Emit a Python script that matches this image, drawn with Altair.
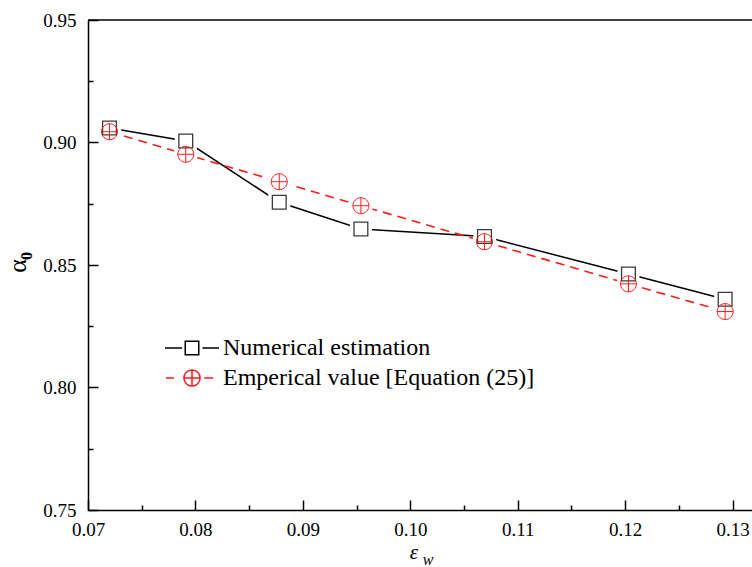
import altair as alt
import pandas as pd

# ---- data ----
eps_w = [0.0720, 0.0791, 0.0878, 0.0954, 0.1069, 0.1203, 0.1293]
alpha_numerical = [0.9059, 0.9006, 0.8756, 0.8647, 0.8616, 0.8463, 0.8360]
alpha_empirical = [0.9044, 0.8952, 0.8840, 0.8742, 0.8595, 0.8423, 0.8310]
series_names = ["Numerical estimation", "Emperical value [Equation (25)]"]
x_labels = [0.07, 0.08, 0.09, 0.10, 0.11, 0.12, 0.13]
y_labels = [0.75, 0.80, 0.85, 0.90, 0.95]
x_all_ticks = [0.07, 0.075, 0.08, 0.085, 0.09, 0.095, 0.10, 0.105, 0.11, 0.115, 0.12, 0.125, 0.13]
y_all_ticks = [0.75, 0.775, 0.80, 0.825, 0.85, 0.875, 0.90, 0.925, 0.95]

W, H = 664, 490
FONT = "Liberation Serif"
RED = "#ff1a1a"

df = pd.DataFrame({
    "eps": eps_w + eps_w,
    "alpha": alpha_numerical + alpha_empirical,
    "series": [series_names[0]] * len(eps_w) + [series_names[1]] * len(eps_w),
})

xs = alt.Scale(domain=[0.07, 0.1318], nice=False, zero=False)
ys = alt.Scale(domain=[0.75, 0.95], nice=False, zero=False)

x_main = alt.X("eps:Q", scale=xs, axis=alt.Axis(
    orient="bottom", values=x_labels, format=".2f", ticks=False, tickSize=0,
    labelPadding=10, labelFont=FONT, labelFontSize=19, labelColor="black",
    labelFlush=False, labelOverlap=False, domainColor="black", domainWidth=1.5,
    grid=False, title=None))
y_main = alt.Y("alpha:Q", scale=ys, axis=alt.Axis(
    orient="left", values=y_labels, format=".2f", ticks=False, tickSize=0,
    labelPadding=12, labelFont=FONT, labelFontSize=19, labelColor="black",
    labelFlush=False, labelOverlap=False, domainColor="black", domainWidth=1.5,
    grid=False, title=None))

x_tick_axis = alt.X("eps:Q", scale=xs, axis=alt.Axis(
    orient="top", offset=-H, values=x_all_ticks, labels=False, domain=False,
    grid=False, ticks=True, tickColor="black", tickWidth=1.5,
    tickSize={"condition": {"test": "abs(datum.value*100 - round(datum.value*100)) < 0.001", "value": 10}, "value": 5},
    title=None))
y_tick_axis = alt.Y("alpha:Q", scale=ys, axis=alt.Axis(
    orient="right", offset=-W, values=y_all_ticks, labels=False, domain=False,
    grid=False, ticks=True, tickColor="black", tickWidth=1.5,
    tickSize={"condition": {"test": "abs(datum.value*20 - round(datum.value*20)) < 0.001", "value": 10}, "value": 5},
    title=None))

x_plain = alt.X("eps:Q", scale=xs, axis=None)
y_plain = alt.Y("alpha:Q", scale=ys, axis=None)

base = alt.Chart(df)
num = base.transform_filter(alt.datum.series == series_names[0])
emp = base.transform_filter(alt.datum.series == series_names[1])

CIRCLE_PLUS = "M -1 0 A 1 1 0 1 0 1 0 A 1 1 0 1 0 -1 0 Z M -1 0 L 1 0 M 0 -1 L 0 1"

line_num = num.mark_line(color="black", strokeWidth=1.5).encode(x=x_main, y=y_main)
line_emp = emp.mark_line(color=RED, strokeWidth=1.6, strokeDash=[9, 6]).encode(x=x_tick_axis, y=y_tick_axis)

halo_num = num.mark_point(shape="square", size=484, filled=True, color="white", opacity=1).encode(x=x_plain, y=y_plain)
halo_emp = emp.mark_point(shape="circle", size=576, filled=True, color="white", opacity=1).encode(x=x_plain, y=y_plain)

pts_num = num.mark_point(shape="square", size=190, filled=False, color="#3a3a3a", strokeWidth=1.3, opacity=1).encode(x=x_plain, y=y_plain)
pts_emp = emp.mark_point(shape=CIRCLE_PLUS, size=256, filled=False, color=RED, strokeWidth=1.0, opacity=1).encode(x=x_plain, y=y_plain)

# legend symbols (line - marker - line), unit = 9 px
LEG_NUM = "M -3 0 L -1.1 0 M -0.75 -0.75 L 0.75 -0.75 L 0.75 0.75 L -0.75 0.75 Z M 1.15 0 L 3 0"
LEG_EMP = ("M -2.9 0 L -2.0 0 M -0.9 0 A 0.9 0.9 0 1 0 0.9 0 A 0.9 0.9 0 1 0 -0.9 0 Z "
           "M -0.9 0 L 0.9 0 M 0 -0.9 L 0 0.9 M 1.35 0 L 2.35 0")

leg = alt.Legend(orient="none", legendX=92, legendY=316, title=None, labelFont=FONT,
                 labelFontSize=24, labelColor="black", labelOffset=19, rowPadding=6,
                 padding=0, symbolSize=324, symbolStrokeWidth=1.5, labelLimit=600)

legend_layer = base.transform_filter("false").mark_point(filled=False, opacity=1, strokeWidth=1.5, size=324).encode(
    x=x_plain, y=y_plain,
    shape=alt.Shape("series:N", scale=alt.Scale(domain=series_names, range=[LEG_NUM, LEG_EMP]), legend=leg),
    color=alt.Color("series:N", scale=alt.Scale(domain=series_names, range=["black", RED]), legend=leg),
)

frame_top = alt.Chart(pd.DataFrame({"k": [0]})).mark_rule(color="black", strokeWidth=1.5).encode(
    x=alt.value(0), x2=alt.value(W), y=alt.value(0))

def label(text, x, y, size, style="normal", weight="normal", angle=0):
    return alt.Chart(pd.DataFrame({"t": [text]})).mark_text(
        font=FONT, fontSize=size, fontStyle=style, fontWeight=weight, angle=angle,
        color="black", align="center", baseline="middle").encode(
        text="t:N", x=alt.value(x), y=alt.value(y))

x_title = label("ε", 326, 533, 21, style="italic")
x_sub = label("w", 340, 540, 16, style="italic")
y_title = label("α", -70, 246, 26, angle=270)
y_sub = label("0", -61, 236, 16, weight="bold", angle=270)

chart = alt.layer(
    line_num, line_emp, halo_num, halo_emp, pts_num, pts_emp, legend_layer,
    frame_top, x_title, x_sub, y_title, y_sub,
).resolve_axis(x="independent", y="independent").properties(
    width=W, height=H,
    autosize=alt.AutoSizeParams(type="none"),
    padding={"left": 88, "top": 20, "right": 0, "bottom": 57},
    background="white",
).configure_view(stroke=None)

chart.save("out.html", embed_options={"renderer": "svg", "actions": False})
